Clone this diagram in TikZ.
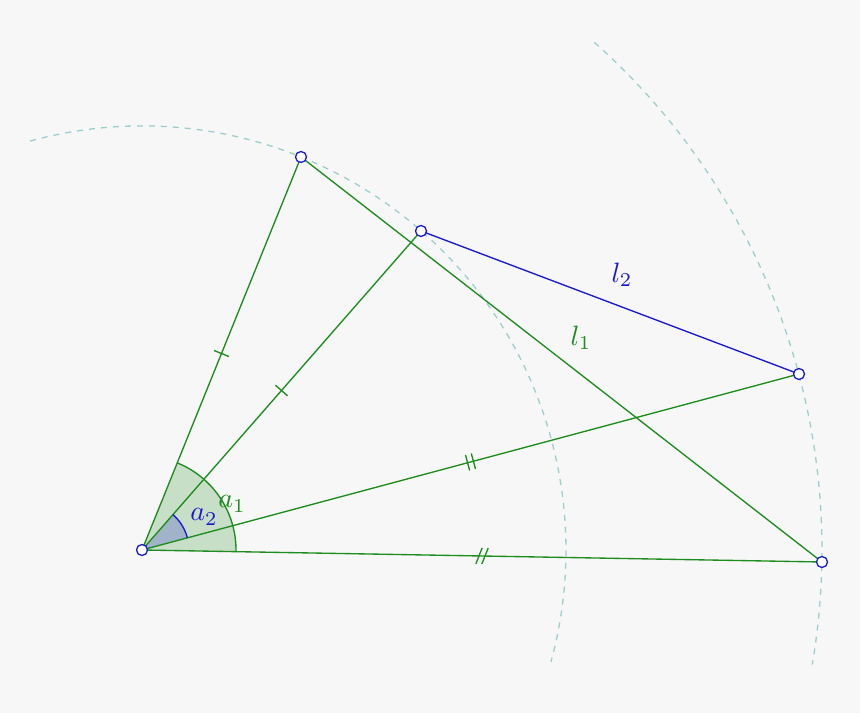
\documentclass[tikz,border=0pt]{standalone}
\usetikzlibrary{decorations.markings}
\definecolor{gr}{HTML}{1E8C1E}
\definecolor{bl}{HTML}{1A1ACC}
\definecolor{tl}{HTML}{9CCFCB}
\definecolor{bg}{HTML}{F7F7F7}
\tikzset{
  pt/.style={circle,draw=bl,fill=white,line width=1.3pt,inner sep=0pt,minimum size=11pt},
  seg/.style={draw=gr,line width=1.35pt},
  guide/.style={draw=tl,line width=1.3pt,dash pattern=on 6pt off 6pt},
  lab/.style={scale=2.8,transform shape},
  tick1/.style={postaction={decorate},decoration={markings,mark=at position 0.5 with {\draw[gr,line width=1.35pt] (0,-8) -- (0,8);}}},
  tickpar/.style={postaction={decorate},decoration={markings,mark=at position 0.5 with {\draw[gr,line width=1.35pt] (-3,-8) -- (-3,8) (3,-8) -- (3,8);}}},
  tickslant/.style={postaction={decorate},decoration={markings,mark=at position 0.5 with {\draw[gr,line width=1.35pt] (-6,-8) -- (0,8) (0,-8) -- (6,8);}}}
}
\begin{document}
\begin{tikzpicture}[x=1pt,y=1pt]
\fill[bg] (0,0) rectangle (860,713);
\useasboundingbox (0,0) rectangle (860,713);
% points (positions)
\coordinate (O) at (142,163);
\coordinate (A) at (301,556);
\coordinate (B) at (421,482);
\coordinate (C) at (799,339);
\coordinate (D) at (822,151);
% guide arcs
\draw[guide] (O) ++(105.3:424) arc[start angle=105.3,end angle=-15.3,radius=424];
\draw[guide] (O) ++(48.3:680) arc[start angle=48.3,end angle=-9.7,radius=680];
% angle fills
\fill[gr,opacity=0.22] (O) -- ++(-1.01:94) arc[start angle=-1.01,end angle=67.97,radius=94] -- cycle;
\fill[bl,opacity=0.22] (O) -- ++(15.0:47) arc[start angle=15.0,end angle=48.83,radius=47] -- cycle;
% segments
\draw[seg,tick1] (O) -- (A);
\draw[seg,tick1] (O) -- (B);
\draw[seg,tickpar] (O) -- (C);
\draw[seg,tickslant] (O) -- (D);
\draw[seg] (A) -- (D);
\draw[draw=bl,line width=1.35pt] (B) -- (C);
% angle arcs
\draw[gr,line width=1.35pt] (O) ++(-1.01:94) arc[start angle=-1.01,end angle=67.97,radius=94];
\draw[bl,line width=1.35pt] (O) ++(15.0:47) arc[start angle=15.0,end angle=48.83,radius=47];
% labels
\node[lab,text=bl] (l2) at (622,438) {$l_2$};
\node[lab,text=gr] (l1) at (581,375) {$l_1$};
\node[lab,text=gr] (a1) at (232,209) {$a_1$};
\node[lab,text=bl] (a2) at (204,196) {$a_2$};
% point markers
\node[pt] (pO) at (O) {};
\node[pt] (pA) at (A) {};
\node[pt] (pB) at (B) {};
\node[pt] (pC) at (C) {};
\node[pt] (pD) at (D) {};
\end{tikzpicture}
\end{document}
